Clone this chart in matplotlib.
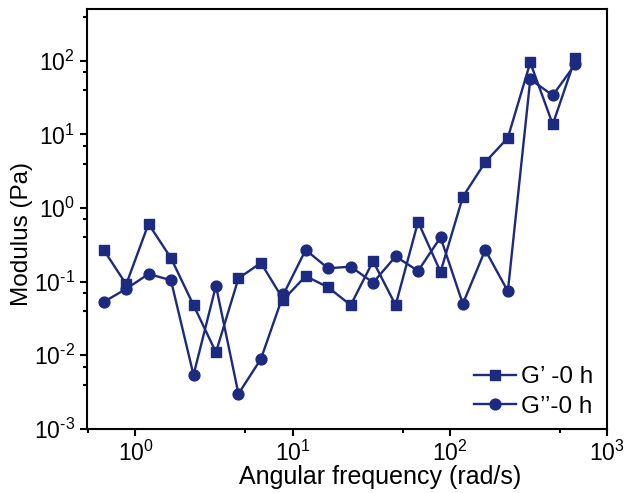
import numpy as np
import matplotlib
matplotlib.use("Agg")
import matplotlib.pyplot as plt
from matplotlib.ticker import LogLocator, NullFormatter, FuncFormatter

plt.rcParams['font.family'] = ['Liberation Sans', 'DejaVu Sans']
plt.rcParams['mathtext.fontset'] = 'custom'
plt.rcParams['mathtext.rm'] = 'Liberation Sans'
plt.rcParams['mathtext.it'] = 'Liberation Sans'
plt.rcParams['mathtext.bf'] = 'Liberation Sans'

# angular frequency (rad/s)
freq = [0.628, 0.873, 1.21, 1.68, 2.34, 3.25, 4.52, 6.28, 8.73, 12.1, 16.8,
        23.4, 32.5, 45.2, 62.8, 87.3, 121, 168, 234, 325, 452, 628]
# storage modulus G'
g1 = [0.27, 0.092, 0.61, 0.21, 0.048, 0.011, 0.111, 0.18, 0.057, 0.119, 0.084,
      0.048, 0.19, 0.048, 0.65, 0.136, 1.42, 4.2, 9.0, 95, 13.7, 108]
# loss modulus G''
g2 = [0.053, 0.080, 0.127, 0.105, 0.0054, 0.088, 0.0030, 0.0089, 0.067, 0.27, 0.152,
      0.16, 0.097, 0.22, 0.14, 0.40, 0.050, 0.27, 0.074, 56, 34, 90]

col = '#1c2a80'


def pow_label(v, pos):
    e = int(round(np.log10(v)))
    if e < 0:
        return r'$\mathregular{10^{\text{-}%d}}$' % (-e)
    return r'$\mathregular{10^{%d}}$' % e


fig = plt.figure(figsize=(6.29, 4.93), dpi=100)
ax = fig.add_axes([0.138, 0.130, 0.827, 0.851])

ax.plot(freq, g1, '-s', color=col, lw=1.7, ms=7.2, label='G\u2019 -0 h')
ax.plot(freq, g2, '-o', color=col, lw=1.7, ms=7.8, label='G\u2019\u2019-0 h')

ax.set_xscale('log')
ax.set_yscale('log')
ax.set_xlim(0.49, 1000)
ax.set_ylim(1e-3, 500)

ax.xaxis.set_major_locator(LogLocator(base=10, numticks=10))
ax.yaxis.set_major_locator(LogLocator(base=10, numticks=10))
ax.xaxis.set_major_formatter(FuncFormatter(pow_label))
ax.yaxis.set_major_formatter(FuncFormatter(pow_label))
ax.xaxis.set_minor_locator(LogLocator(base=10, subs=(5,), numticks=10))
ax.yaxis.set_minor_locator(LogLocator(base=10, subs=(4, 7), numticks=10))
ax.xaxis.set_minor_formatter(NullFormatter())
ax.yaxis.set_minor_formatter(NullFormatter())

ax.tick_params(which='major', direction='out', length=5, width=1.5, labelsize=16.5)
ax.tick_params(which='minor', direction='out', length=3, width=1.5)
for s in ax.spines.values():
    s.set_linewidth(1.5)

ax.set_xlabel('Angular frequency (rad/s)', fontsize=18)
ax.set_ylabel('Modulus (Pa)', fontsize=17.5)
ax.xaxis.set_label_coords(0.563, -0.086)
ax.yaxis.set_label_coords(-0.104, 0.465)

ax.legend(loc='lower right', bbox_to_anchor=(1.015, -0.025), frameon=False,
          fontsize=17.5, handlelength=1.7, handletextpad=0.2, labelspacing=0.3)

fig.savefig('out.png', dpi=100)
